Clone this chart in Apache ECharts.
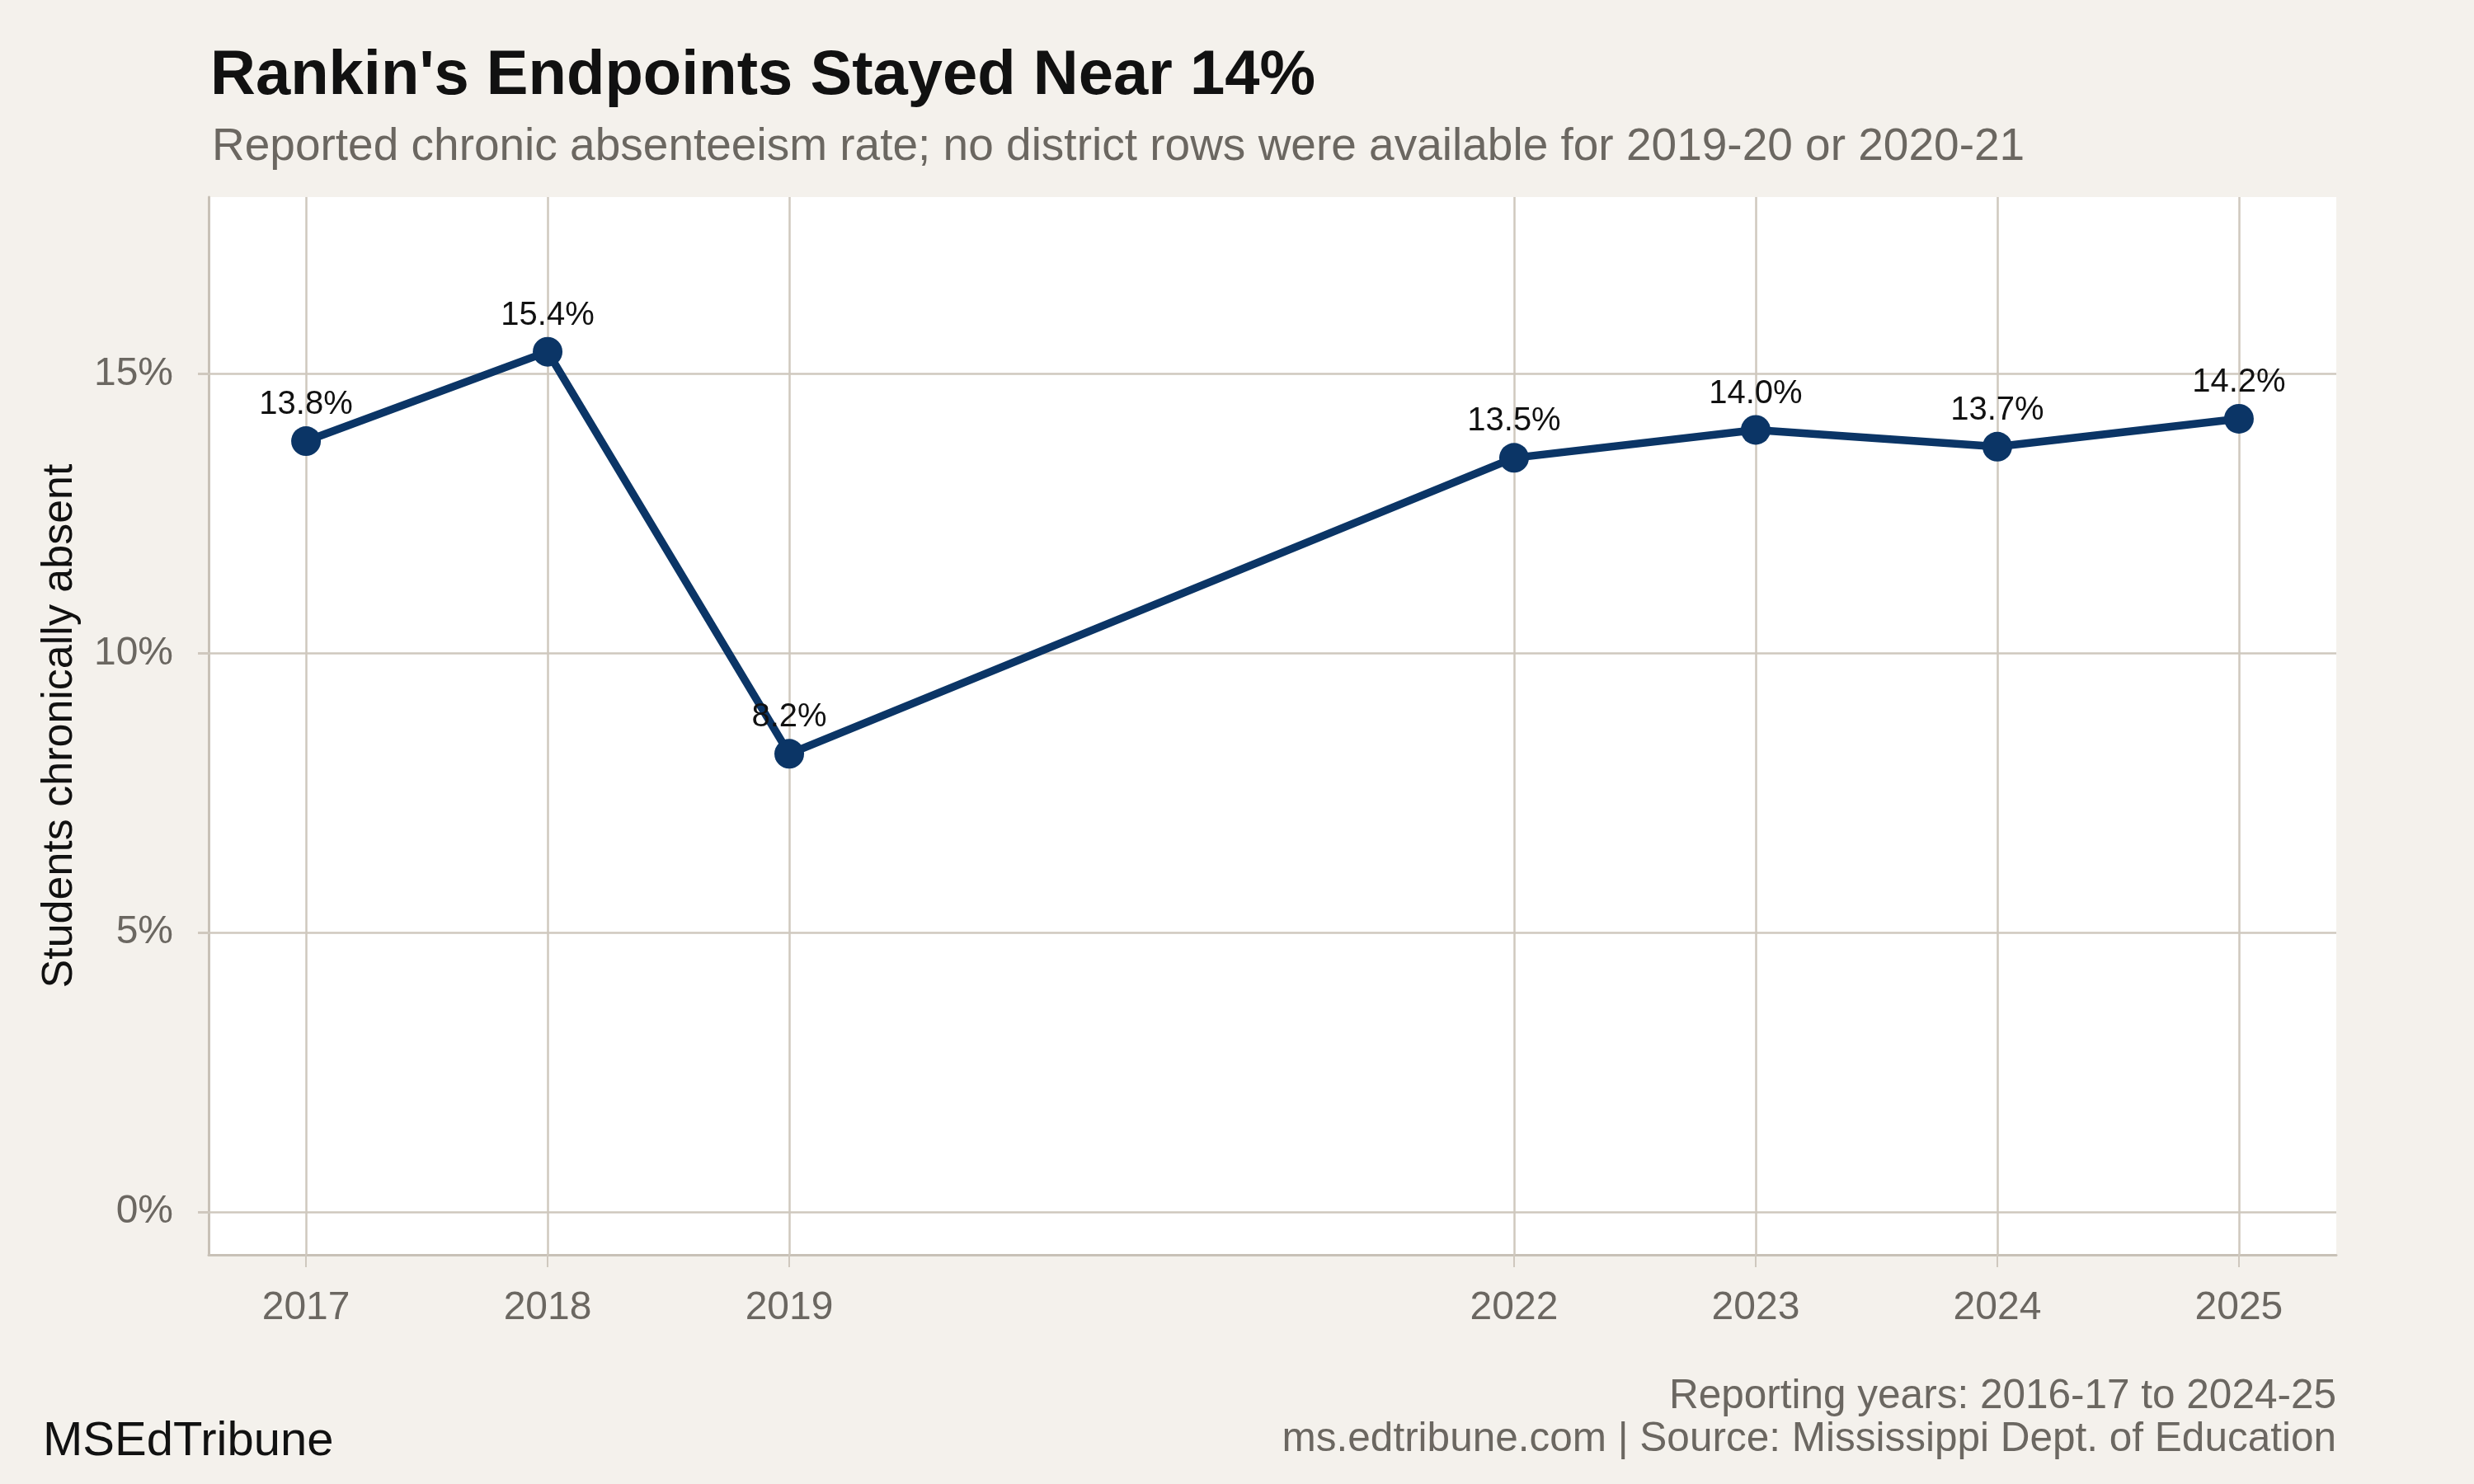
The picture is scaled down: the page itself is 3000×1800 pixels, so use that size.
<!DOCTYPE html>
<html>
<head>
<meta charset="utf-8">
<script src="https://cdn.jsdelivr.net/npm/echarts@6/dist/echarts.min.js"></script>
<style>
  html, body { margin: 0; padding: 0; background: #f4f1ec; }
  #chart { width: 3000px; height: 1800px; }
</style>
</head>
<body>
<div id="chart"></div>
<script>
// data
var years = [2017, 2018, 2019, 2022, 2023, 2024, 2025];
var rates = [13.8, 15.4, 8.2, 13.5, 14.0, 13.7, 14.2];
var yTicks = [0, 5, 10, 15];

var gridColor = '#cfc8be';
var axisColor = '#c8c1b7';
var greyText = '#6b6761';
var font = 'Liberation Sans';

var points = years.map(function(y, i) { return [y, rates[i]]; });

// gridlines go through markLine so they sit only on the real years
var gridLines = years.map(function(y) { return { xAxis: y }; })
    .concat(yTicks.map(function(v) { return { yAxis: v }; }));

var myChart = echarts.init(document.getElementById('chart'));

var option = {
    backgroundColor: '#f4f1ec',
    animation: false,
    title: [
        {
            text: "Rankin's Endpoints Stayed Near 14%",
            left: 250, top: 50,
            textStyle: { fontFamily: font, fontSize: 76, fontWeight: 'bold', color: '#111' }
        },
        {
            text: 'Reported chronic absenteeism rate; no district rows were available for 2019-20 or 2020-21',
            left: 252, top: 146,
            textStyle: { fontFamily: font, fontSize: 55, fontWeight: 'normal', color: greyText }
        },
        {
            text: 'Reporting years: 2016-17 to 2024-25',
            right: 162, top: 1664,
            textStyle: { fontFamily: font, fontSize: 49.5, fontWeight: 'normal', color: greyText }
        },
        {
            text: 'ms.edtribune.com | Source: Mississippi Dept. of Education',
            right: 162, top: 1716,
            textStyle: { fontFamily: font, fontSize: 49.5, fontWeight: 'normal', color: greyText }
        },
        {
            text: 'MSEdTribune',
            left: 47, top: 1715,
            textStyle: { fontFamily: font, fontSize: 58, fontWeight: 'normal', color: '#111' }
        }
    ],
    grid: {
        left: 253, right: 167, top: 239, bottom: 278,
        show: true, backgroundColor: '#ffffff', borderWidth: 0
    },
    xAxis: {
        type: 'value',
        min: 2016.597,
        max: 2025.403,
        axisLine: { show: true, onZero: false, lineStyle: { color: axisColor, width: 3 } },
        axisTick: { show: true, customValues: years, length: 15, lineStyle: { color: gridColor, width: 2 } },
        axisLabel: {
            customValues: years,
            margin: 41,
            fontFamily: font, fontSize: 48, color: greyText,
            formatter: function(v) { return String(v); }
        },
        splitLine: { show: false }
    },
    yAxis: {
        type: 'value',
        min: -0.77,
        max: 18.17,
        name: 'Students chronically absent',
        nameLocation: 'middle',
        nameRotate: 90,
        nameGap: 154,
        nameTextStyle: { fontFamily: font, fontSize: 52, color: '#111' },
        axisLine: { show: true, onZero: false, lineStyle: { color: axisColor, width: 3 } },
        axisTick: { show: true, customValues: yTicks, length: 13, lineStyle: { color: gridColor, width: 3 } },
        axisLabel: {
            customValues: yTicks,
            margin: 43,
            fontFamily: font, fontSize: 48, color: greyText,
            formatter: function(v) { return v + '%'; }
        },
        splitLine: { show: false }
    },
    series: [
        {
            // invisible carrier for the gridlines
            type: 'line',
            data: points,
            z: 1,
            silent: true,
            showSymbol: false,
            lineStyle: { opacity: 0 },
            markLine: {
                silent: true,
                symbol: ['none', 'none'],
                label: { show: false },
                lineStyle: { color: gridColor, width: 2.5, type: 'solid' },
                emphasis: { disabled: true },
                data: gridLines
            }
        },
        {
            type: 'line',
            data: points,
            z: 5,
            symbol: 'circle',
            symbolSize: 36,
            lineStyle: { color: '#0b3566', width: 9.5 },
            itemStyle: { color: '#0b3566' },
            label: {
                show: true,
                position: 'top',
                distance: 6,
                fontFamily: font, fontSize: 40, color: '#111',
                formatter: function(p) { return p.value[1].toFixed(1) + '%'; }
            }
        }
    ]
};

myChart.setOption(option, true);
</script>
</body>
</html>
